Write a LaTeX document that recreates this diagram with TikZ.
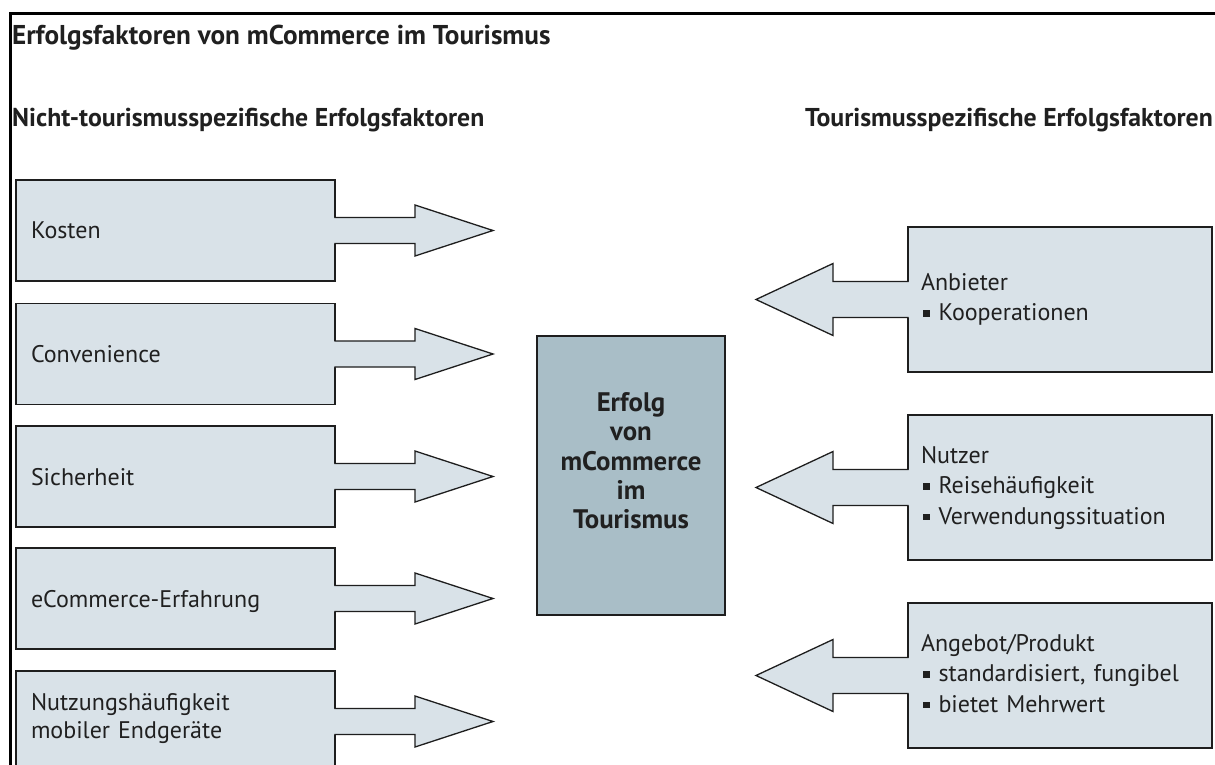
\documentclass[tikz,border=0pt]{standalone}
\usepackage{fontspec}
\setmainfont{PT Sans}
\definecolor{lightfill}{HTML}{D9E2E8}
\definecolor{darkfill}{HTML}{A9BEC7}
\definecolor{edge}{HTML}{1E1E1E}
\definecolor{ink}{HTML}{202020}
\newcommand{\sqb}{\hspace*{2pt}\raisebox{4pt}{\rule{6.5pt}{6.5pt}}\hspace{9pt}}
\tikzset{
  lbox/.style={draw=edge, fill=lightfill, line width=1.3pt, outer sep=0pt,
    minimum width=319pt, minimum height=101pt, text width=289pt, inner xsep=15pt,
    align=left, text=ink, text depth=0pt, font=\fontsize{24}{28}\selectfont},
  rbox/.style={draw=edge, fill=lightfill, line width=1.3pt, outer sep=0pt,
    minimum width=304pt, minimum height=145pt, text width=278pt, inner xsep=13pt,
    align=left, text=ink, font=\fontsize{24}{30.5}\selectfont,
    execute at begin node=\strut, execute at end node=\strut},
  cbox/.style={draw=edge, fill=darkfill, line width=1.3pt, outer sep=0pt,
    minimum width=188pt, minimum height=279pt},
  ctext/.style={align=center, text=ink, font=\bfseries\fontsize{26.8}{29.3}\selectfont},
  head/.style={anchor=base west, text=ink, inner sep=0pt, font=\bfseries\fontsize{25.8}{28}\selectfont},
  outline/.style={draw=edge, line width=1.3pt, line join=miter},
}
\begin{document}
\begin{tikzpicture}[x=1pt,y=-1pt]
\useasboundingbox (0,0) rectangle (1215,765);
\fill[white] (0,0) rectangle (1215,765);
% frame
\draw[line width=3pt, black] (10.5,765) -- (10.5,13.3) -- (1215,13.3);
% titles
\node[head, font=\bfseries\fontsize{27.2}{30}\selectfont] (title) at (12,44.5) {Erfolgsfaktoren von mCommerce im Tourismus};
\node[head] (hl) at (12,127) {Nicht-tourismusspezifische Erfolgsfaktoren};
\node[head, anchor=base east] (hr) at (1213,127) {Tourismusspezifische Erfolgsfaktoren};
% left boxes
\node[lbox] (k) at (175.5,230.5) {Kosten};
\node[lbox] (c) at (175.5,354) {Convenience};
\node[lbox] (s) at (175.5,476.5) {Sicherheit};
\node[lbox] (e) at (175.5,598.5) {eCommerce-Erfahrung};
\node[lbox, text depth=40pt] (n) at (175.5,721.5) {Nutzungshäufigkeit\\mobiler Endgeräte};
% centre box
\node[cbox] (m) at (631,475.5) {};
\node[ctext] (mt) at (631,460.8) {Erfolg\\von\\mCommerce\\im\\Tourismus};
% right boxes
\node[rbox] (a) at (1060,299.5) {Anbieter\\\sqb Kooperationen};
\node[rbox] (u) at (1060,487.5) {Nutzer\\\sqb Reisehäufigkeit\\\sqb Verwendungssituation};
\node[rbox] (p) at (1060,675.5) {Angebot/Produkt\\\sqb standardisiert, fungibel\\\sqb bietet Mehrwert};
% left block arrows
\foreach \b in {k,c,s,e,n}{
  \fill[lightfill] (\b.east) ++(-1.5,-13) -- ++(81.5,0) -- ++(0,-12.5) -- ++(78,25.5) -- ++(-78,25.5) -- ++(0,-12.5) -- ++(-81.5,0) -- cycle;
  \draw[outline] (\b.east) ++(-0.65,-13) -- ++(80.65,0) -- ++(0,-12.5) -- ++(78,25.5) -- ++(-78,25.5) -- ++(0,-12.5) -- ++(-80.65,0);
}
% right block arrows
\foreach \b in {a,u,p}{
  \fill[lightfill] (\b.west) ++(1.5,-18) -- ++(-76.5,0) -- ++(0,-18) -- ++(-77,36) -- ++(77,36) -- ++(0,-18) -- ++(76.5,0) -- cycle;
  \draw[outline] (\b.west) ++(0.65,-18) -- ++(-75.65,0) -- ++(0,-18) -- ++(-77,36) -- ++(77,36) -- ++(0,-18) -- ++(75.65,0);
}
\end{tikzpicture}
\end{document}
